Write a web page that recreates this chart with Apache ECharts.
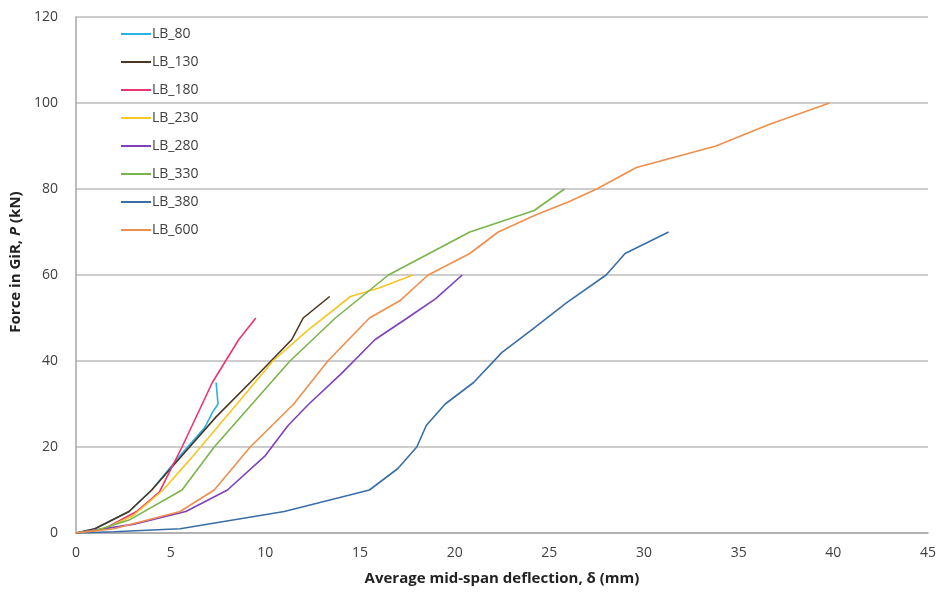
<!DOCTYPE html>
<html>
<head>
<meta charset="utf-8">
<script src="https://cdn.jsdelivr.net/npm/echarts@6/dist/echarts.min.js"></script>
<style>
  html, body { margin: 0; padding: 0; background: #fff; }
  #chart { width: 939px; height: 597px; }
</style>
</head>
<body>
<div id="chart"></div>
<script>
// deflection (mm), force (kN) pairs
var lb80 = [[0,0],[1,1],[2.8,5],[4,10],[5.5,18],[6.8,24.5],[7.2,28],[7.5,30],[7.4,35]];
var lb130 = [[0,0],[1,1],[2.8,5],[4,10],[5,15],[6,20],[7.4,27],[9.2,35],[10.3,40],[11.4,45],[12,50],[13.4,55]];
var lb180 = [[0,0],[1.5,1],[3.2,5],[4.4,9.5],[4.8,13],[5.6,20],[7.2,35],[8.6,45],[9.5,50]];
var lb230 = [[0,0],[1.5,1],[3,4],[4.6,10],[6,17],[8.5,30],[10.4,40],[12.2,47],[14.5,55],[16,57],[17.8,60]];
var lb280 = [[0,0],[3,2],[5.8,5],[8,10],[10,18],[11.2,25],[12.3,30],[14,37],[15.8,45],[17.5,50],[19,54.5],[20.4,60]];
var lb330 = [[0,0],[1,0.5],[2.8,3],[5.6,10],[7.3,20],[8.3,25],[9.3,30],[11.3,40],[13.7,50],[16.5,60],[20.8,70],[24.2,75],[25.8,80]];
var lb380 = [[0,0],[2,0.3],[5.5,1],[11,5],[15.5,10],[17,15],[18,20],[18.5,25],[19.5,30],[21,35],[22.5,42],[24,47],[25.9,53.5],[28,60],[29,65],[31.3,70]];
var lb600 = [[0,0],[2,1],[5.5,5],[7.3,10],[9.2,20],[11.5,30],[13.3,40],[15.5,50],[17.1,54],[18.6,60],[20.8,65],[22.3,70],[24.3,74],[26,77],[27.5,80],[29.6,85],[33.8,90],[36.6,95],[39.8,100]];

var names = ['LB_80', 'LB_130', 'LB_180', 'LB_230', 'LB_280', 'LB_330', 'LB_380', 'LB_600'];
var datasets = [lb80, lb130, lb180, lb230, lb280, lb330, lb380, lb600];
var colors = ['#29b1e6', '#4a3520', '#ea3473', '#f7c624', '#7e40bd', '#79b54a', '#3b6ea6', '#f08f4c'];

var font = 'Open Sans, Liberation Sans, sans-serif';

var series = names.map(function (n, i) {
    return {
        name: n,
        type: 'line',
        data: datasets[i],
        showSymbol: false,
        symbol: 'none',
        lineStyle: { width: 1.6, color: colors[i] },
        itemStyle: { color: colors[i] }
    };
});

var option = {
    backgroundColor: '#fff',
    animation: false,
    color: colors,
    grid: { left: 76, right: 9, top: 17, bottom: 64 },
    legend: {
        orient: 'vertical',
        left: 116,
        top: 22,
        itemGap: 14,
        itemWidth: 30,
        itemHeight: 15,
        icon: 'path://M0,6 L30,6 L30,8 L0,8 Z',
        textStyle: { fontFamily: font, fontSize: 14, color: '#404040', padding: [0, 0, 0, -4] },
        data: names
    },
    xAxis: {
        type: 'value',
        min: 0, max: 45, interval: 5,
        name: 'Average mid-span deflection, δ (mm)',
        nameLocation: 'middle',
        nameGap: 38,
        nameTextStyle: { fontFamily: font, fontSize: 15, fontWeight: 'bold', color: '#222' },
        axisLine: { lineStyle: { color: '#a6a6a6', width: 1.5 } },
        axisTick: { show: false },
        axisLabel: { fontFamily: font, fontSize: 14, color: '#404040', margin: 13 },
        splitLine: { show: false }
    },
    yAxis: {
        type: 'value',
        min: 0, max: 120, interval: 20,
        name: '{b|Force in GiR, }{i|P}{b| (kN)}',
        nameLocation: 'middle',
        nameGap: 51,
        nameTextStyle: {
            padding: [0, 0, 0, 26],
            rich: {
                b: { fontFamily: font, fontSize: 15, fontWeight: 'bold', color: '#222' },
                i: { fontFamily: font, fontSize: 15, fontWeight: 'bold', fontStyle: 'italic', color: '#222' }
            }
        },
        axisLine: { show: true, lineStyle: { color: '#a6a6a6', width: 1.5 } },
        axisTick: { show: false },
        axisLabel: { fontFamily: font, fontSize: 14, color: '#404040', margin: 18 },
        splitLine: { lineStyle: { color: '#bdbdbd', width: 1.5 } }
    },
    series: series
};

echarts.init(document.getElementById('chart')).setOption(option);
</script>
</body>
</html>
